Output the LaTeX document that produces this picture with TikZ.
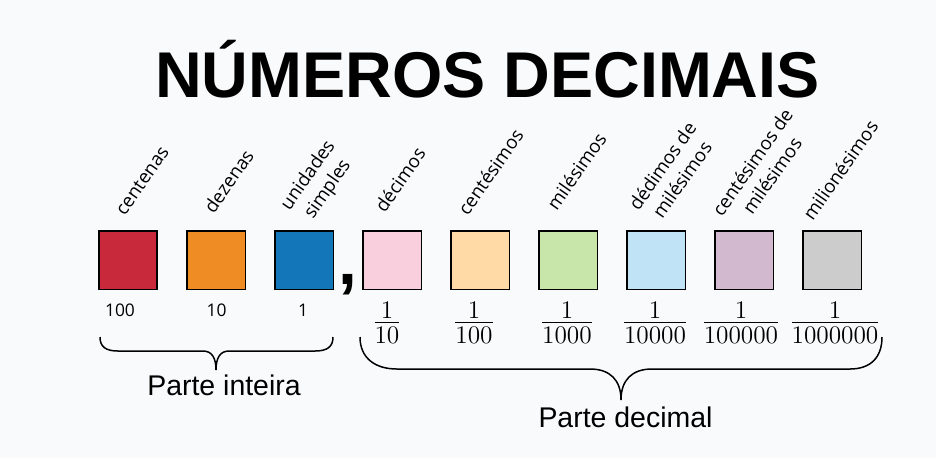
\documentclass[tikz,border=0pt]{standalone}
\usepackage{amsmath}
\usepackage{fontspec}
\newfontfamily\titlefont{Liberation Sans}
\newfontfamily\labelfont{Open Sans}

\definecolor{fundo}{HTML}{F9FAFB}
\definecolor{corA}{HTML}{C8293B}
\definecolor{corB}{HTML}{EF8C23}
\definecolor{corC}{HTML}{1276B9}
\definecolor{corD}{HTML}{F9CEDD}
\definecolor{corE}{HTML}{FFD9A6}
\definecolor{corF}{HTML}{C8E6A9}
\definecolor{corG}{HTML}{C0E3F5}
\definecolor{corH}{HTML}{D3B9D0}
\definecolor{corI}{HTML}{CCCCCC}

\tikzset{
	casa/.style={draw=black, line width=0.85pt, minimum size=1.17cm, inner sep=0pt},
	ordem/.style={rotate=55, anchor=south west, inner sep=0pt, font=\labelfont\fontsize{10.6}{13.6}\selectfont},
	valor/.style={anchor=base, inner sep=0pt, font=\labelfont\fontsize{9.9}{11}\selectfont},
	fracao/.style={inner sep=0pt, font=\fontsize{14}{16}\selectfont},
	parte/.style={anchor=base, inner sep=0pt, font=\titlefont\fontsize{16.2}{19}\selectfont},
	chave/.style={line width=0.85pt}
}

\begin{document}
\begin{tikzpicture}[x=0.02cm, y=-0.02cm]

	\fill[fundo] (0,0) rectangle (936,458);
	\useasboundingbox (0,0) rectangle (936,458);

	\node[anchor=base, inner sep=0pt, font=\titlefont\bfseries\fontsize{36.8}{40}\selectfont] (titulo) at (487.5,97) {NÚMEROS DECIMAIS};

	\foreach \i/\cor in {1/corA, 2/corB, 3/corC, 4/corD, 5/corE, 6/corF, 7/corG, 8/corH, 9/corI}
		\node[casa, fill=\cor] (c\i) at (40+88*\i,260) {};

	\node[anchor=base, inner sep=0pt, font=\titlefont\bfseries\fontsize{38.5}{40}\selectfont] (virgula) at (348,284) {,};

	\node[ordem] (l1) at (125,217) {centenas};
	\node[ordem] (l2) at (214,215) {dezenas};
	\node[ordem, anchor=south, align=center] (l3) at (336,195) {unidades\\simples};
	\node[ordem] (l4) at (385,214) {décimos};
	\node[ordem] (l5) at (468,217) {centésimos};
	\node[ordem] (l6) at (557,212) {milésimos};
	\node[ordem, anchor=south, align=center] (l7) at (688,184) {dédimos de\\milésimos};
	\node[ordem, anchor=south, align=center] (l8) at (778,180) {centésimos de\\milésimos};
	\node[ordem] (l9) at (813,222) {milionésimos};

	\node[valor] (v1) at (120,316) {100};
	\node[valor] (v2) at (216.5,316) {10};
	\node[valor] (v3) at (303,316) {1};

	\foreach \x/\d [count=\k from 4] in {387/10, 474/100, 567/1000, 655/10000, 741/100000, 835/1000000}
		\node[fracao] (f\k) at (\x,323) {$\frac{\textstyle 1}{\textstyle\rule{0pt}{0.8em}\d}$};

	\draw[chave] (100,337) .. controls (100,347) and (106,351) .. (118,351) -- (203,351)
		.. controls (212,351) and (216,358) .. (216,370) .. controls (216,358) and (220,351) .. (229,351)
		-- (315,351) .. controls (327,351) and (333,347) .. (333,337);
	\draw[chave] (360,337) .. controls (360,358) and (375,369) .. (397,369) -- (590,369)
		.. controls (610,369) and (621,380) .. (621,400) .. controls (621,380) and (632,369) .. (652,369)
		-- (850,369) .. controls (870,369) and (882,358) .. (882,337);

	\node[parte] (inteira) at (224,395) {Parte inteira};
	\node[parte] (decimal) at (625.5,427) {Parte decimal};

\end{tikzpicture}
\end{document}
